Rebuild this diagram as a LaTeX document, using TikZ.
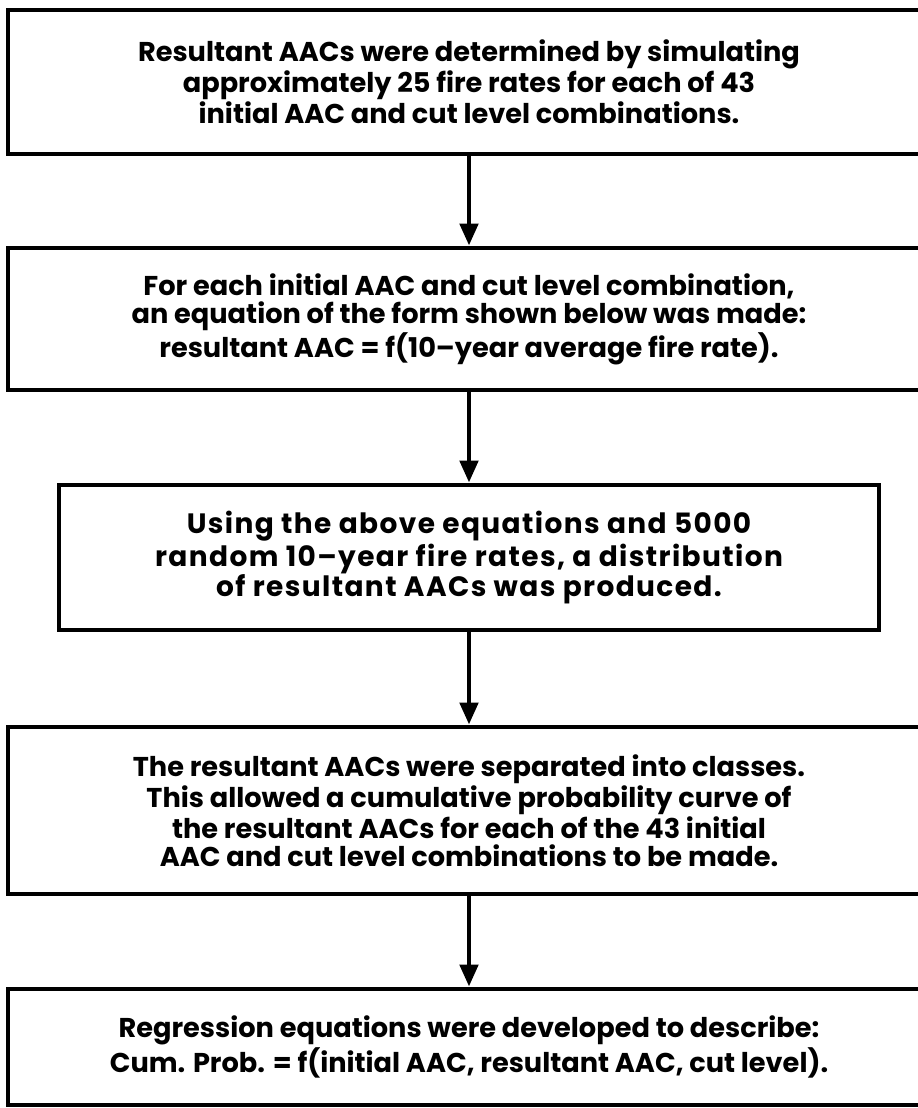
\documentclass[tikz,border=0pt]{standalone}
\usepackage{fontspec}
\setmainfont{Poppins}
\usetikzlibrary{positioning,arrows.meta}

\begin{document}
\begin{tikzpicture}[x=0.5pt,y=-0.5pt,
    box/.style={draw, line width=2.4pt, align=center, inner sep=0pt,
      font=\fontsize{13.6}{14}\selectfont\bfseries},
    widebox/.style={box, font=\fontsize{14}{15}\selectfont\bfseries\addfontfeature{LetterSpace=5}},
    flow/.style={line width=2.4pt, -{Triangle[length=11pt,width=9pt]}}]
  \useasboundingbox (0,0) rectangle (917,1108);

  \node[box, minimum width=461pt, minimum height=72pt] (s1) at (469,82)
    {Resultant AACs were determined by simulating\\
     approximately 25 fire rates for each of 43\\
     initial AAC and cut level combinations.};
  \node[box, minimum width=461pt, minimum height=71pt, below=44.6pt of s1] (s2)
    {For each initial AAC and cut level combination,\\
     an equation of the form shown below was made:\\
     resultant AAC = f(10--year average fire rate).};
  \node[widebox, minimum width=410pt, minimum height=72.5pt, below=45.1pt of s2] (s3)
    {Using the above equations and 5000\\
     random 10--year fire rates, a distribution\\
     of resultant AACs was produced.};
  \node[box, minimum width=461pt, minimum height=83.5pt, below=46.1pt of s3] (s4)
    {The resultant AACs were separated into classes.\\
     This allowed a cumulative probability curve of\\
     the resultant AACs for each of the 43 initial\\
     AAC and cut level combinations to be made.};
  \node[box, minimum width=461pt, minimum height=58pt, below=45.1pt of s4] (s5)
    {Regression equations were developed to describe:\\
     Cum. Prob. = f(initial AAC, resultant AAC, cut level).};

  \draw[flow] (s1) -- (s2);
  \draw[flow] (s2) -- (s3);
  \draw[flow] (s3) -- (s4);
  \draw[flow] (s4) -- (s5);
\end{tikzpicture}
\end{document}
